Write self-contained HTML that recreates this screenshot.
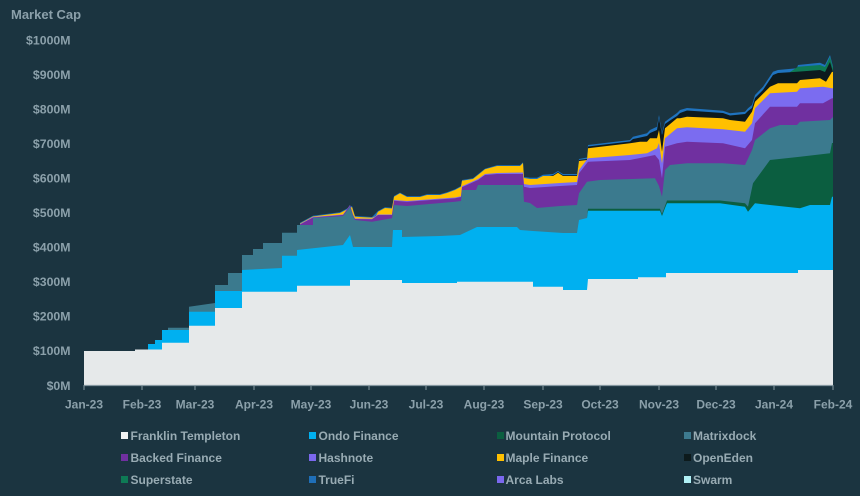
<!DOCTYPE html>
<html><head><meta charset="utf-8"><style>
html,body{margin:0;padding:0;background:#1b3440;}
svg{display:block;}
text{font-family:"Liberation Sans",Arial,sans-serif;font-weight:bold;}
</style></head><body>
<svg width="860" height="496" viewBox="0 0 860 496" xmlns="http://www.w3.org/2000/svg">
<rect x="0" y="0" width="860" height="496" fill="#1b3440"/>
<text x="11" y="19" font-size="13" fill="#8ba0aa">Market Cap</text>
<g font-size="12.3" fill="#8ba0aa" text-anchor="end">
<text x="70.5" y="44.3">$1000M</text>
<text x="70.5" y="78.8">$900M</text>
<text x="70.5" y="113.4">$800M</text>
<text x="70.5" y="147.9">$700M</text>
<text x="70.5" y="182.5">$600M</text>
<text x="70.5" y="217">$500M</text>
<text x="70.5" y="251.6">$400M</text>
<text x="70.5" y="286.1">$300M</text>
<text x="70.5" y="320.7">$200M</text>
<text x="70.5" y="355.2">$100M</text>
<text x="70.5" y="389.8">$0M</text>
</g>
<!-- TrueFi (top) -->
<path fill="#1f73bf" d="M300,385 L300,222.8 313,215.8 340,212.3 352,206 355,216 372,217 378,211 385,207.3 392,207.8 394,196 400,192.6 407,196.3 420,196.3 427,194.3 440,194.3 447,192.3 455,189.3 461,186 462,180 473,178.3 478,174.3 485,168.6 497,165.3 520,165.3 523,162.3 524,177 530,177.7 537,177.7 543,174.8 553,174 558,171 563,174 577,174 579,159 587,157.5 588,145 630,140 633,136.7 647,133.3 650,130 657,126.7 659,115 662,133.3 665,121.7 670,118 677,113 680,110 687,108 723,110.7 730,113.3 745,111.7 748,108.3 752,105 755,95 763,86.7 773,71.7 778,70 797,68.3 798,65 820,62.7 825,65 830,55 833,66.7 833,385 Z"/>
<!-- Superstate -->
<path fill="#0e7a55" d="M790,385 L790,72 798,66.7 820,65 825,67 830,57 833,68 833,385 Z"/>
<!-- OpenEden -->
<path fill="#0d1a1e" d="M540,385 L540,178 553,175.3 558,172 563,175.3 577,175.3 579,160 587,159 588,146.5 630,141.5 633,139 647,136 650,133 657,130 659,118 662,135 665,124 670,120.5 677,116 680,113 687,110.5 723,113 730,115.5 745,114 748,111 752,108 755,98 763,90 773,75 778,73 797,71.7 820,70 825,72 830,62 833,72 833,385 Z"/>
<!-- Maple -->
<path fill="#ffc000" d="M300,385 L300,223.5 313,216.5 340,213 352,207 355,216.7 372,217.7 376,216 378,211.7 385,208 392,208.5 394,196.7 400,193.3 407,197 420,197 427,195 440,195 447,193 455,190 461,186.7 462,180.7 473,179 478,175 485,169.3 497,166 520,166 523,163 524,178 530,179 537,179 543,176 553,176 558,172.7 563,176 577,176 579,161 587,160 588,148.3 630,143.3 640,141.7 647,141.7 650,138.3 657,138.3 659,130 662,151.7 665,128.3 677,118.3 680,118.3 687,116.7 723,118.3 730,120 745,121.7 752,111.7 755,101.7 770,86.7 778,83.3 797,83.3 800,80 820,78.3 826,81.7 832,71.7 833,72 833,385 Z"/>
<!-- Hashnote -->
<path fill="#7b6cf0" d="M300,385 L300,224 313,217 343,214.5 350,205 353,214.5 355,218.5 372,218.8 378,214.5 392,214.5 394,200 407,201 455,197.5 461,196.3 462,186.3 478,179 485,174 497,173 523,172.5 524,184 530,185 560,183 577,182 579,170 587,159.5 588,158.3 630,155 647,153.3 657,148.3 659,143 662,163.3 665,138.3 677,128.3 687,127.3 723,129.3 745,131.7 752,123.3 755,108.3 770,93.3 797,91.7 800,88.3 823,86.7 832,88.3 833,88.3 833,385 Z"/>
<!-- Backed -->
<path fill="#7030a0" d="M300,385 L300,224.5 313,217.5 343,215 350,205.5 353,215 355,219 372,219.3 378,215 392,215 394,200.7 407,201.7 455,198.3 461,197 462,187.3 478,180 485,175 497,174 523,174 524,186.7 530,188 560,186 577,185 579,173.3 587,163 588,161.7 630,160 655,155 659,160 662,178.3 665,146.7 677,143.3 687,141.7 723,143.3 745,148.3 752,140 755,123.3 770,106.7 797,106.7 800,103.3 823,103.3 832,98.3 833,98.3 833,385 Z"/>
<!-- Matrixdock -->
<path fill="#3b7a8e" d="M168,385 L168,327.7 189,327.7 189,306.7 215,303 215,285 228,285 228,273 242,273 242,255 253,255 253,249 263,249 263,243 282,243 282,232.7 297,232.7 297,225 313,225 313,218 343,216 350,206.7 353,216 355,220 372,221.7 392,218.3 394,205 407,206 455,201.7 461,201 462,190 476,190 478,185 523,185 524,201.7 530,203 537,208 560,206 577,205 579,193.3 587,181.7 600,180 655,178.3 659,186 662,196.7 665,170 670,165 687,163.3 723,163.3 745,165 752,150 755,140 770,128.3 780,125 797,125 800,121.7 830,120 833,117 833,385 Z"/>
<!-- Mountain Protocol -->
<path fill="#0b5e40" d="M587,385 L587,218 588,208.7 660,208.7 662,214 665,206 667,200.5 720,200.5 745,203.3 748,206.7 753,183.3 770,160 800,156.7 830,153.3 832,143 833,143 833,385 Z"/>
<!-- Ondo -->
<path fill="#00b0f0" d="M84,385 L84,351 148,351 148,344 155,344 155,340 162,340 162,330 189,330 189,311.7 215,311.7 215,291 242,291 242,270 282,268 282,255.7 297,255.7 297,250 343,245 350,235 353,247 392,247 393,230 402,230 402,237 440,236 460,235 477,227 517,227 520,230 533,231 563,233 577,233 579,220 587,218 588,210.7 660,210.7 662,216 665,208 667,203.3 720,203.3 745,206.7 748,211.7 755,203.3 770,205 800,208.3 810,205 830,205 832,196.7 833,196.7 833,385 Z"/>
<!-- Franklin Templeton -->
<path fill="#e6e9ea" d="M84,385 L84,351 135,351 135,349.5 162,349.5 162,342.7 189,342.7 189,325.7 215,325.7 215,308 242,308 242,291.7 297,291.7 297,285.7 350,285.7 350,280 402,280 402,283 457,283 457,281.7 533,281.7 533,286.7 563,286.7 563,290 587,290 588,279 638,279 638,277.3 666,277.3 666,273 798,273 798,270 833,270 833,385 Z"/>
<!-- axis -->
<line x1="84" y1="385.5" x2="833" y2="385.5" stroke="#8597a0" stroke-width="1.2"/>
<g stroke="#8597a0" stroke-width="1">
<line x1="84" y1="385" x2="84" y2="390"/><line x1="142" y1="385" x2="142" y2="390"/><line x1="195" y1="385" x2="195" y2="390"/><line x1="254" y1="385" x2="254" y2="390"/><line x1="311" y1="385" x2="311" y2="390"/><line x1="369" y1="385" x2="369" y2="390"/><line x1="426" y1="385" x2="426" y2="390"/><line x1="484" y1="385" x2="484" y2="390"/><line x1="543" y1="385" x2="543" y2="390"/><line x1="600" y1="385" x2="600" y2="390"/><line x1="659" y1="385" x2="659" y2="390"/><line x1="716" y1="385" x2="716" y2="390"/><line x1="774" y1="385" x2="774" y2="390"/><line x1="833" y1="385" x2="833" y2="390"/>
</g>
<g font-size="12" fill="#8ba0aa" text-anchor="middle">
<text x="84" y="408.5">Jan-23</text><text x="142" y="408.5">Feb-23</text><text x="195" y="408.5">Mar-23</text><text x="254" y="408.5">Apr-23</text><text x="311" y="408.5">May-23</text><text x="369" y="408.5">Jun-23</text><text x="426" y="408.5">Jul-23</text><text x="484" y="408.5">Aug-23</text><text x="543" y="408.5">Sep-23</text><text x="600" y="408.5">Oct-23</text><text x="659" y="408.5">Nov-23</text><text x="716" y="408.5">Dec-23</text><text x="774" y="408.5">Jan-24</text><text x="833" y="408.5">Feb-24</text>
</g>
<!-- legend -->
<g>
<rect x="121" y="432" width="7" height="7" fill="#f0f2f2"/>
<rect x="309" y="432" width="7" height="7" fill="#00b0f0"/>
<rect x="497" y="432" width="7" height="7" fill="#0b5e40"/>
<rect x="684" y="432" width="7" height="7" fill="#3d7a8f"/>
<rect x="121" y="454" width="7" height="7" fill="#7030a0"/>
<rect x="309" y="454" width="7" height="7" fill="#7b68ee"/>
<rect x="497" y="454" width="7" height="7" fill="#ffc000"/>
<rect x="684" y="454" width="7" height="7" fill="#0d1a1c"/>
<rect x="121" y="476" width="7" height="7" fill="#0e7a55"/>
<rect x="309" y="476" width="7" height="7" fill="#1f6fb8"/>
<rect x="497" y="476" width="7" height="7" fill="#7b68ee"/>
<rect x="684" y="476" width="7" height="7" fill="#b0f0f5"/>
</g>
<g font-size="12" fill="#98abb3">
<text x="130.5" y="440">Franklin Templeton</text>
<text x="318.5" y="440">Ondo Finance</text>
<text x="505.5" y="440">Mountain Protocol</text>
<text x="693" y="440">Matrixdock</text>
<text x="130.5" y="462">Backed Finance</text>
<text x="318.5" y="462">Hashnote</text>
<text x="505.5" y="462">Maple Finance</text>
<text x="693" y="462">OpenEden</text>
<text x="130.5" y="484">Superstate</text>
<text x="318.5" y="484">TrueFi</text>
<text x="505.5" y="484">Arca Labs</text>
<text x="693" y="484">Swarm</text>
</g>
</svg>
</body></html>
